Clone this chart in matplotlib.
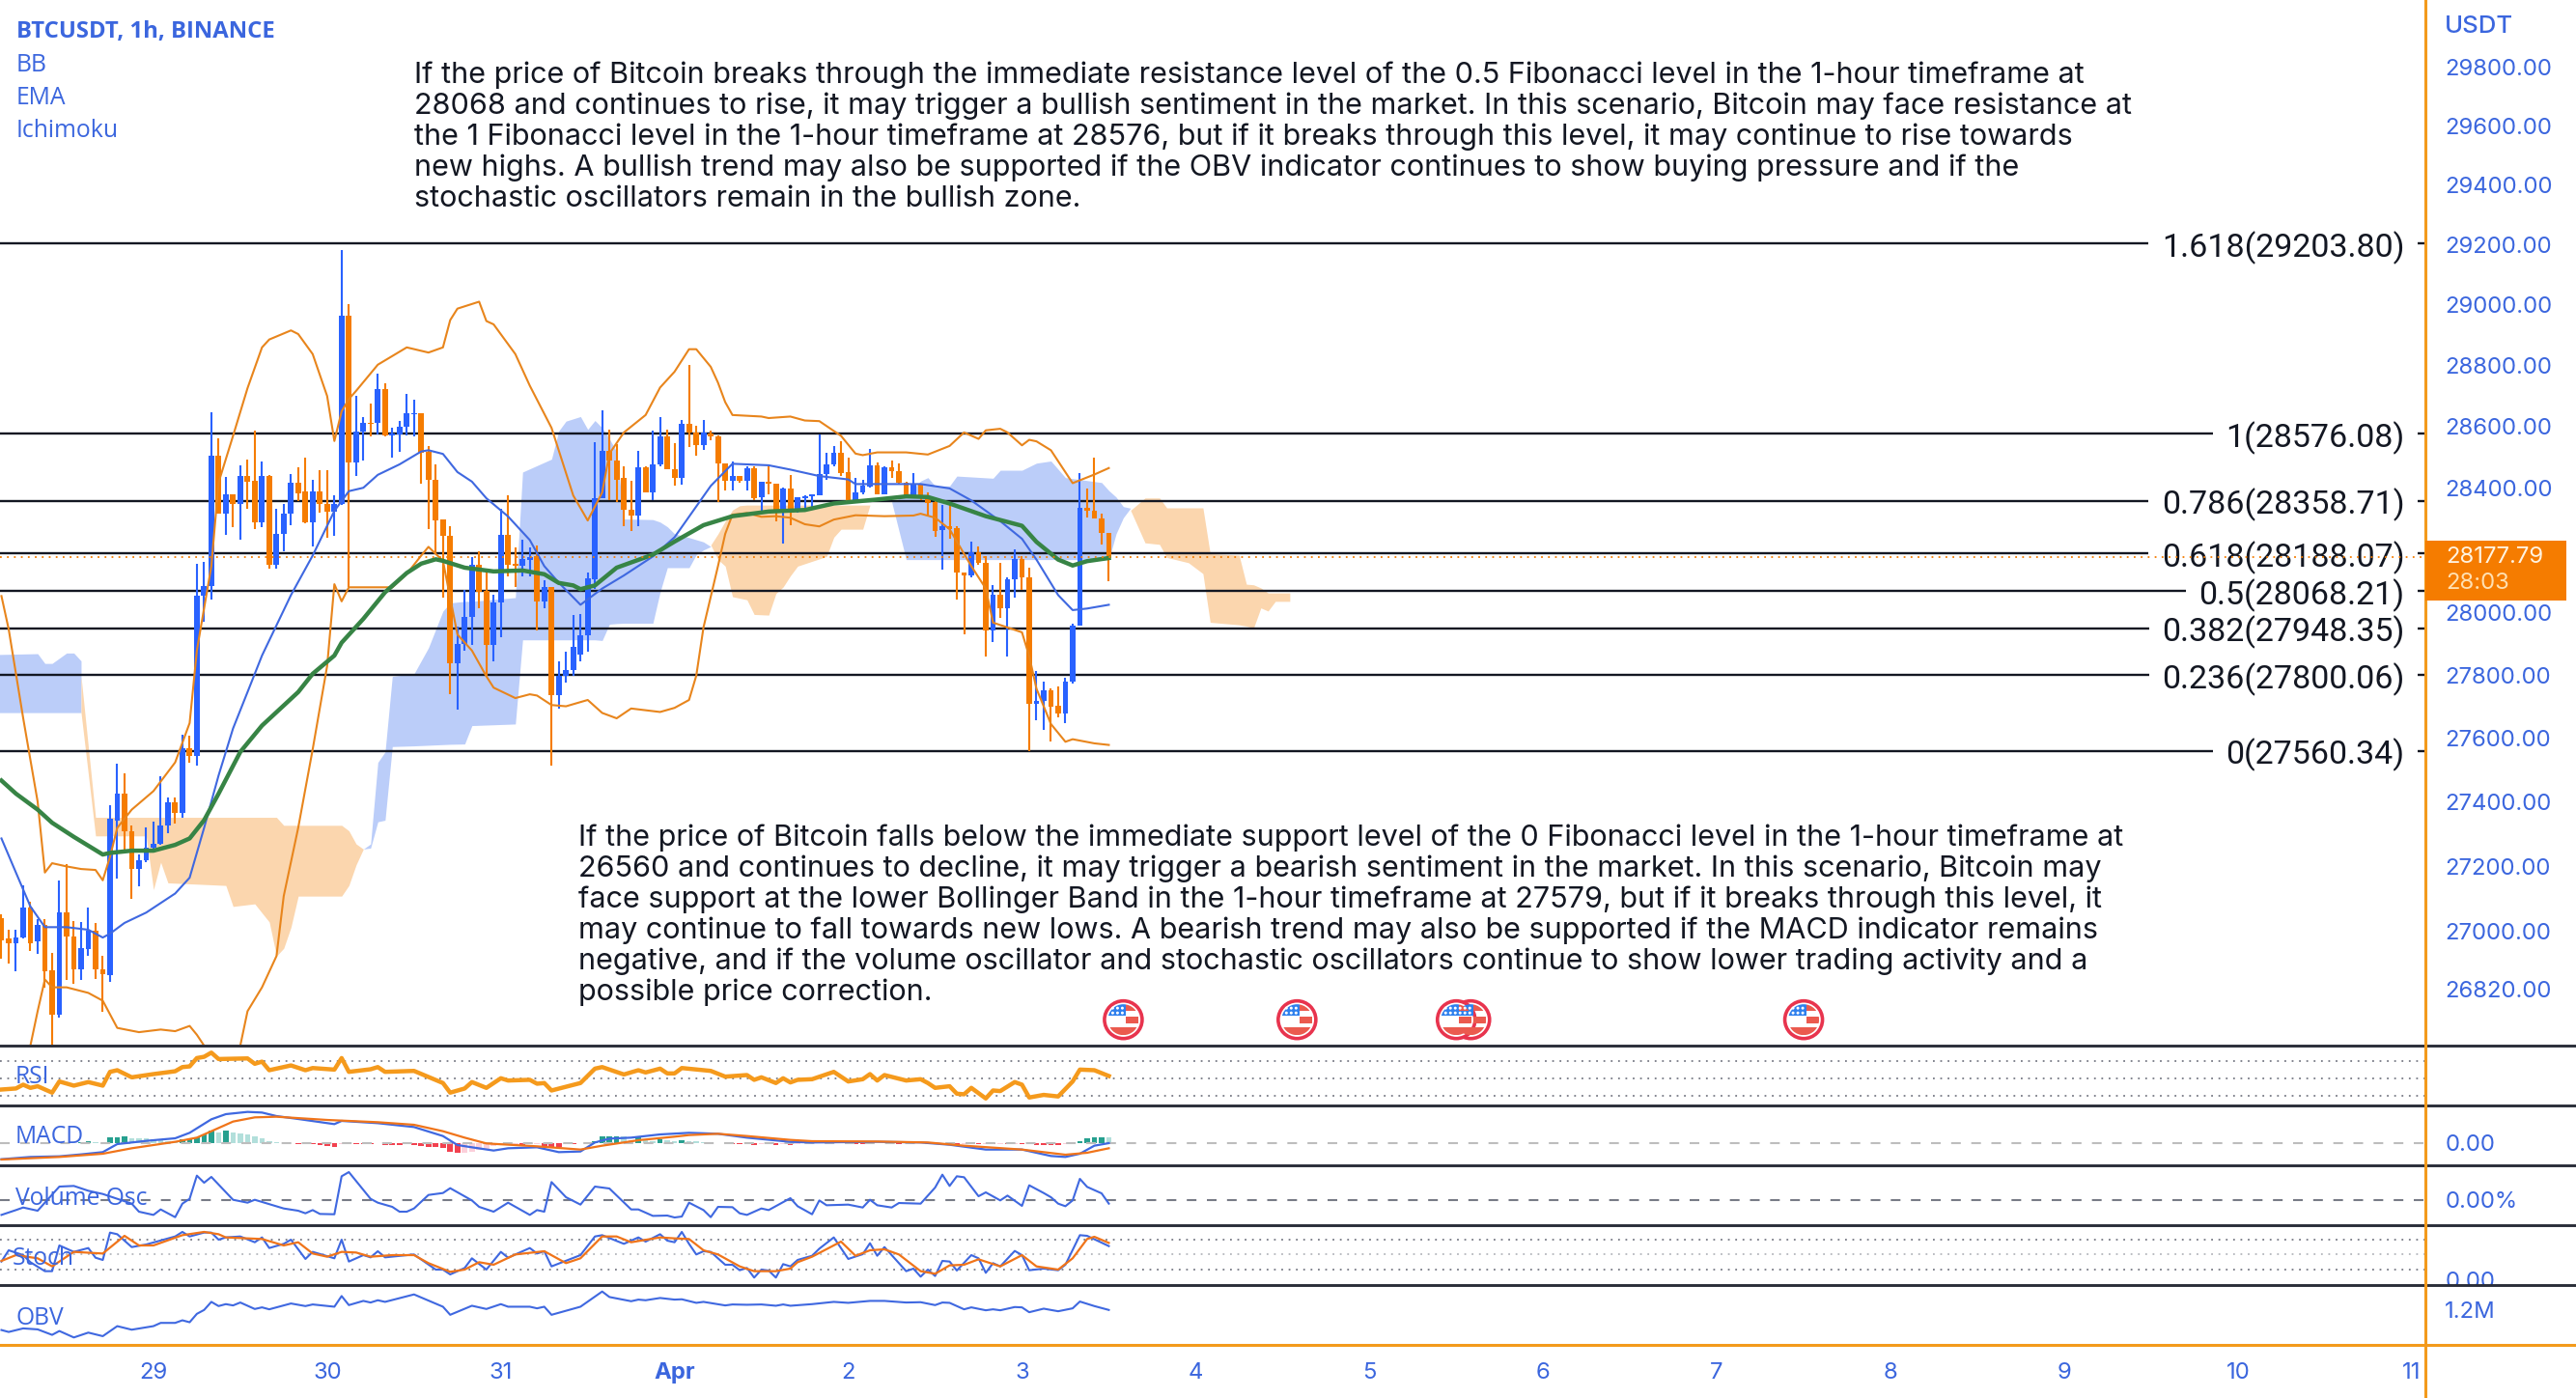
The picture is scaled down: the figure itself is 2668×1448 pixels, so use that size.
import numpy as np
import matplotlib
matplotlib.use('Agg')
import matplotlib.pyplot as plt
from matplotlib.lines import Line2D
from matplotlib.patches import Rectangle, Circle
from matplotlib.path import Path
from matplotlib.ticker import NullLocator, NullFormatter
from matplotlib.transforms import IdentityTransform

# hours are counted from 29 March 00:00, one candle per hour
candle_high = [27051,27003,27003,27140,27088,27035,27035,26933,27156,27207,27030,27027,27072,27024,26922,27389,27521,27491,27327,27236,27319,
    27340,27480,27414,27414,27610,27607,28156,28161,28648,28562,28435,28379,28474,28494,28588,28486,28443,28334,28350,28447,28469,28499,28426,28457,28457,28376,29184,29002,28700,28631,28674,28774,28743,28596,28619,28708,28688,28645,28536,28477,28300,28278,27954,28072,28177,28195,28140,28055,28334,28376,28207,28232,28207,28215,28102,28080,27845,27875,27991,
    27993,28128,28549,28654,28591,28544,28470,28423,28521,28470,28588,28631,28591,28546,28623,28802,28604,28623,28586,28570,28481,28486,28439,28470,28470,28420,28470,28413,28402,28441,28371,28378,28381,28575,28516,28536,28552,28500,28434,28428,28528,28484,28470,28488,28481,28420,28450,28413,28386,28360,28345,28347,28278,28128,28226,28212,28179,28086,28157,28112,28202,28179,28143,27814,27778,27757,27765,27791,27962,28449,28397,28499,28316,28254]
candle_top = [27040,26975,26979,27072,27072,27017,27017,26877,27056,27056,26983,26946,27000,27000,26882,27348,27426,27426,27307,27217,27258,
    27269,27327,27398,27398,27570,27569,28052,28084,28506,28506,28379,28379,28438,28438,28425,28438,28438,28253,28317,28416,28416,28388,28388,28388,28347,28350,28964,28964,28584,28613,28613,28722,28722,28579,28600,28645,28645,28645,28518,28426,28300,28246,27900,27984,28151,28151,28069,28030,28249,28249,28155,28170,28178,28181,28080,28080,27796,27817,27891,
    27926,28110,28368,28521,28521,28491,28432,28331,28468,28468,28476,28567,28567,28462,28609,28609,28581,28581,28578,28567,28479,28439,28439,28465,28465,28420,28420,28413,28399,28397,28371,28374,28379,28447,28478,28515,28515,28452,28386,28407,28473,28473,28468,28468,28455,28416,28413,28410,28374,28355,28278,28278,28270,28126,28192,28192,28157,28057,28057,28107,28171,28171,28112,27719,27752,27752,27704,27780,27957,28335,28335,28327,28301,28254]
candle_bottom = [26970,26962,26962,26979,26962,26966,26874,26742,26742,26982,26882,26882,26943,26882,26866,26863,27343,27307,27191,27191,27217,
    27256,27269,27327,27365,27365,27544,27544,28052,28084,28317,28317,28350,28350,28421,28290,28290,28151,28151,28253,28317,28384,28290,28290,28347,28325,28325,28347,28484,28484,28584,28608,28612,28570,28572,28574,28600,28641,28514,28426,28296,28246,27837,27837,27900,27984,28067,27895,27895,28030,28151,28148,28148,28168,28035,28035,27735,27735,27796,27817,
    27865,27926,28107,28368,28491,28428,28331,28312,28312,28386,28386,28476,28462,28434,28434,28581,28539,28539,28567,28481,28423,28423,28423,28423,28368,28371,28413,28319,28319,28319,28324,28368,28374,28378,28447,28478,28449,28357,28357,28386,28405,28381,28381,28455,28416,28376,28376,28366,28353,28262,28264,28267,28126,28119,28119,28157,27942,27942,28012,28012,28107,28112,27708,27708,27717,27701,27678,27678,27778,27957,28327,28301,28254,28174]
candle_low = [26914,26898,26874,26975,26938,26930,26826,26648,26732,26850,26838,26850,26922,26853,26750,26842,27160,27245,27099,27136,27212,
    27245,27266,27302,27331,27352,27524,27513,27971,28042,28317,28249,28275,28232,28334,28266,28275,28140,28140,28195,28280,28359,28285,28212,28320,28238,28246,28345,28080,28440,28490,28567,28574,28567,28499,28519,28570,28567,28413,28266,28190,28047,27738,27689,27878,27895,28013,27796,27845,27920,28114,28080,28114,28114,27942,28013,27513,27694,27776,27796,
    27842,27873,28076,28366,28360,28355,28276,28262,28278,28386,28360,28470,28460,28407,28410,28533,28504,28525,28554,28355,28392,28392,28418,28392,28360,28319,28381,28293,28221,28281,28319,28329,28340,28376,28428,28470,28439,28355,28355,28381,28402,28381,28381,28434,28413,28366,28366,28360,28309,28241,28136,28236,28040,27929,28112,28153,27860,27906,27983,27860,28047,28071,27560,27658,27625,27589,27665,27647,27773,27957,28304,28301,28218,28101]
candle_side = ("OOBBOBOOBOOBBOOBBOOBB"
    "BBBOBOBBBOBOBOOBOBBBOOBOOBBOBBOBOBBBBOOOOOBBBOOBBOOBBOBOBBB"
    "BBBBOOOOBOBBOOBOOBOOOBOBOBOOBOBBBBBBOOBBBOBOOOBOOOBOOOBOOBOBBOOBBOOBBBOOOO")

upper_hours = [-21,-20,-18,-16,-15,-14,-12,-10,-8,-7,-6,-5,-3,0,3,5,6,7,8,9,11,13,15,16,19,20,22,24,25,26,27,28,31,35,38,40,41,42,45,46,47,50,52,55,58,60,62,63,65,68,70,72,74,75,77,78,79,80,84,85,88,90,92,95,97,98,100,104,107,110,112,114,115,117,118,120,121,122,124,127,130,132]
upper_band = [28052,27946,27664,27401,27180,27209,27199,27191,27188,27156,27229,27319,27376,27434,27524,27648,27878,28013,28148,28418,28570,28726,28860,28886,28916,28904,28838,28700,28553,28650,28690,28717,28803,28860,28843,28860,28950,28988,29011,28947,28936,28838,28734,28596,28376,28295,28386,28512,28581,28638,28728,28780,28854,28854,28796,28744,28680,28638,28633,28628,28633,28620,28618,28570,28512,28507,28516,28516,28509,28537,28581,28560,28588,28593,28581,28539,28557,28552,28523,28416,28444,28465]
lower_hours = [-21,-17,-16,-15,-14,-12,-9,-7,-5,-2,1,3,5,6,7,9,11,12,13,15,17,18,20,22,24,25,26,27,30,33,35,37,38,40,42,44,46,47,50,52,53,55,57,60,62,64,66,70,72,74,75,76,78,79,80,82,84,86,88,90,92,94,97,101,105,106,108,110,113,115,116,120,121,122,124,126,127,130,132]
lower_band = [26350,26648,26753,26850,26826,26826,26809,26785,26702,26689,26697,26692,26708,26681,26648,26450,26450,26648,26753,26826,26922,27107,27319,27565,27829,28090,28035,28080,28080,28080,28123,28182,28210,28165,27929,27878,27796,27760,27727,27739,27735,27705,27701,27721,27680,27663,27694,27683,27696,27721,27798,27952,28148,28252,28314,28319,28307,28309,28304,28283,28276,28298,28312,28309,28311,28317,28304,28267,28148,28076,27967,27936,27860,27757,27645,27589,27597,27584,27579]
basis_hours = [-21,-19,-17,-15,-12,-9,-7,-6,-4,-1,3,5,7,9,11,13,15,19,22,25,27,29,31,34,37,38,40,42,44,46,49,52,54,56,59,62,65,69,72,77,80,85,88,92,96,97,106,110,113,117,120,122,125,127,129,132]
basis_band = [27286,27180,27075,27011,27011,27003,26979,26991,27024,27056,27115,27164,27319,27483,27631,27746,27862,28055,28182,28326,28390,28401,28443,28477,28519,28523,28511,28452,28421,28367,28308,28232,28148,28095,28024,28076,28118,28179,28241,28407,28479,28474,28460,28439,28428,28413,28413,28399,28360,28293,28236,28169,28055,28007,28012,28024]
ema_hours = [-21,-19,-16,-14,-11,-7,-6,-3,0,3,5,7,9,12,15,20,22,25,26,29,32,35,37,39,40,43,47,51,54,56,58,59,61,64,69,72,76,80,85,90,94,100,104,107,110,115,120,122,125,127,129,132]
ema_line = [27467,27426,27376,27335,27291,27236,27241,27248,27248,27266,27286,27343,27426,27557,27640,27746,27804,27862,27903,27979,28064,28126,28156,28170,28165,28143,28131,28134,28122,28094,28086,28074,28086,28143,28185,28227,28280,28309,28324,28329,28350,28363,28373,28371,28350,28309,28278,28226,28169,28150,28164,28174]

cloud_blue1_hours = [-22,-16,-15,-14,-12,-11,-10]
cloud_blue1_top = [27865,27868,27837,27837,27870,27870,27845]
cloud_blue1_bottom = [27681,27681,27681,27681,27681,27681,27681]
cloud_orange1_hours = [-10,-8,-1,0,1,2,10,11,14,16,17,18,19,20,26,27,28,29]
cloud_orange1_top = [27796,27352,27352,27352,27352,27352,27352,27352,27352,27352,27352,27327,27327,27327,27327,27310,27269,27253]
cloud_orange1_bottom = [27681,27294,27294,27127,27212,27148,27140,27075,27083,27027,26922,26946,27011,27107,27107,27140,27204,27253]
cloud_blue2_hours = [29,30,31,32,33,36,38,40,41,43,44,50,51,55,56,57,59,60,61,62,63,64,65,69,70,71,72,74,75,76,77]
cloud_blue2_top = [27253,27269,27524,27557,27796,27804,27887,28004,28030,28035,28035,28047,28452,28494,28586,28618,28633,28591,28620,28596,28560,28518,28300,28298,28290,28275,28252,28240,28233,28226,28211]
cloud_blue2_bottom = [27253,27256,27338,27343,27574,27576,27578,27580,27581,27582,27640,27645,27912,27912,27912,27912,27912,27912,27912,27910,27962,27964,27965,27965,28065,28143,28143,28143,28185,28200,28211]
cloud_orange2_hours = [77,78,79,80,81,82,83,85,86,87,88,89,93,94,95,98,99]
cloud_orange2_top = [28216,28252,28293,28329,28343,28345,28345,28345,28345,28345,28345,28345,28345,28345,28345,28345,28345]
cloud_orange2_bottom = [28216,28169,28148,28050,28045,28040,27993,27991,28060,28081,28117,28148,28179,28241,28267,28267,28345]
cloud_blue3_hours = [102,104,106,107,108,110,111,116,117,120,122,124,126,131,132,133,134,135]
cloud_blue3_top = [28355,28376,28423,28434,28407,28407,28439,28432,28458,28458,28481,28488,28434,28418,28392,28371,28340,28335]
cloud_blue3_bottom = [28355,28169,28169,28169,28169,28169,28169,28169,28169,28169,28169,28169,28169,28169,28169,28252,28304,28335]
cloud_orange3_hours = [135,137,139,140,143,145,146,150,151,152,153,154,155,157]
cloud_orange3_top = [28328,28368,28368,28336,28336,28336,28188,28183,28090,28088,28078,28062,28062,28062]
cloud_orange3_bottom = [28328,28223,28218,28176,28159,28124,27968,27960,27956,27950,28014,28004,28035,28035]

fib_labels = ['1.618(29203.80)','1(28576.08)','0.786(28358.71)','0.618(28188.07)','0.5(28068.21)','0.382(27948.35)','0.236(27800.06)','0(27560.34)']
fib_prices = [29203.80,28576.08,28358.71,28188.07,28068.21,27948.35,27800.06,27560.34]
last_price = 28177.79
event_hours = [228,182,180,158,134]
event_price = 26727

# 28200 sits behind the last price box, so it is left out
price_ticks = [29800,29600,29400,29200,29000,28800,28600,28400,28000,27800,27600,27400,27200,27000,26820]
day_hours = [0,24,48,72,96,120,144,168,192,216,240,264,288,312]
day_labels = ['29','30','31','Apr','2','3','4','5','6','7','8','9','10','11']

rsi_hours = [-21,-19,-18,-17,-16,-14,-13,-11,-9,-7,-6,-5,-3,0,3,4,5,6,7,8,9,13,14,15,16,19,21,22,25,26,27,30,31,32,36,40,41,43,44,46,48,49,52,53,54,55,59,61,62,65,67,68,70,71,72,73,77,79,82,83,84,86,87,88,89,91,94,96,98,99,100,101,104,106,107,108,110,111,112,113,115,116,117,119,120,121,123,125,127,128,130,132]
rsi_values = [37.0,38.2,42.6,38.9,40.8,33.4,46.3,41.5,45.6,41.5,57.4,59.3,51.1,54.8,58.1,62.9,63.7,73.3,74.8,79.6,72.2,72.9,66.7,69.2,59.3,64.8,59.3,61.8,60,73.3,57.4,60.4,62.9,57.4,58.5,44.5,33.4,38.2,45.6,38.9,50,47.4,48.2,43.7,44.5,35.9,44.5,61.1,62.9,54.4,59.3,56.7,61.1,55.6,55.6,61.8,58.5,51.9,53.7,48.2,51.1,44.5,50,45.2,48.2,48.9,57.4,46.3,48.9,54.8,47.4,53.7,47.4,48.9,44.5,38.9,40.8,32.2,31.5,38.9,26.7,35.9,35.2,45.6,42.6,27.8,30.8,29,46.3,60,59.3,52.6]

macd_hours = [-21,-17,-13,-10,-7,-5,-1,3,5,8,10,13,15,17,20,25,26,31,36,40,42,44,47,49,53,56,59,61,63,66,70,74,78,82,88,91,100,106,110,115,120,124,126,128,130,132]
macd_values = [-25,-21.5,-20.5,-17.5,-14,-1.5,3.5,7.5,16,37,45,48.5,47.5,42,37.5,29.5,34.5,31,25,11,-3,-6.5,-11.5,-8,-6.5,-14,-13,1,7,8.5,13.5,16,14.5,8.5,2,1,2,1,-2.5,-10,-10,-20,-21.5,-16.5,-4,0]
signal_hours = [-21,-13,-7,-3,3,6,8,11,14,17,24,31,36,40,43,46,53,59,62,67,72,74,78,82,88,91,100,107,112,120,126,129,132]
signal_values = [-25.5,-21.5,-16.5,-8,2,8.5,18.5,33.5,40,41,36,32.5,28.5,18.5,8.5,-0.5,-5,-10,-4,4.5,10,12.5,14.5,11,5,3,2.5,1,-4,-10,-18,-15,-8]
hist_values = [0.2,0.2,0.3,0.4,0.4,0.5,0.5,0.4,0.4,0.5,0.5,1.0,3.5,1,0.5,8.5,9.5,10,8,7.5,7,
    6,5,3.5,3,6,6.5,8.5,13,19.5,16,19,16,14.5,13.5,10,7.5,3.5,1,0.5,
    -0.5,-0.8,-1,-1.2,-3.5,-4,-6,-1,-1.2,-2,-2,-2.2,-0.5,-2.5,-3.5,-3.6,-1,-2.5,-5,-5.5,-6,-8,-14,-15.5,-15,-14,-10,-9,-4,-2,-2,-1.5,-3,-1.5,-1,-5.5,-6,-6.5,-1,-1,-0.5,
    0.5,3.5,10,11,11,10,5,8.5,4,3,6,4,3,4,3.5,3,2,1,0.5,0.3,
    -1,-1.5,-2,-3,-1,-1.5,-3,-1,-3,-1,-0.5,-0.3,0.3,0.5,1,0.5,-0.5,-1.5,-1.5,-1.5,-0.5,-0.5,-0.5,-1,-0.7,-0.5,-0.5,-0.7,-1,-1.5,-3,-4,-1,-1,-1.5,-1,-2,-1,-1.5,-1,-1,-2,-3.5,-3.5,-3.5,-3.5,-1.5,-1,
    3.5,7,8.5,9,8.5]

vol_hours = [-21,-19,-18,-16,-13,-11,-9,-7,-3,-2,0,1,3,4,5,6,7,8,11,13,14,18,20,21,22,23,25,26,27,30,31,33,34,35,36,38,40,41,44,45,47,49,52,53,54,55,57,59,61,63,66,67,69,71,72,73,74,76,77,78,80,81,82,84,85,88,89,91,92,93,96,98,99,100,102,103,106,108,109,110,111,112,114,115,117,118,120,121,123,124,125,126,127,128,129,131,132]
vol_values = [-23.5,-16,-12,-17,20.5,21.5,14,9,-6,-18.5,-23.5,-15,-27,-6,1.5,37.5,26.5,35.5,0,-4.5,0,-13.5,-17,-21,-16,-22,-22.5,36.5,43,1.5,-4.5,-11,-18.5,-18.5,-13.5,7.5,10.5,18,-1,-11,-18.5,-4.5,-23.5,-16,-18.5,27.5,4,-7.5,20.5,17.5,-15,-15,-25,-24.5,-27.5,-26,-4.5,-16,-27,-11,-11.5,-21,-23.5,-13.5,-16,2.5,-10,-22.5,-1,-8.5,-7.5,-12,0,-8.5,-12,-5,-6,19,39,21.5,36.5,35,5.5,11.5,-1,6.5,-9.5,22.5,10.5,4,-6,-10,-1,32.5,20,10,-6]

stoch_k_hours = [-21,-20,-18,-17,-15,-14,-13,-11,-9,-8,-7,-6,-5,-3,-1,3,4,5,7,8,9,10,12,14,15,16,18,19,21,22,25,26,27,29,30,31,32,36,39,40,41,43,44,46,48,49,52,53,54,55,59,61,62,65,67,68,70,71,72,73,74,75,76,77,79,80,81,82,83,84,85,86,87,88,89,91,92,94,96,98,99,100,101,104,105,106,107,108,109,110,111,113,114,115,116,117,119,120,121,123,125,126,128,129,132]
stoch_k = [35.8,58.4,48.7,34.5,16.5,16.5,68.1,55.2,62.9,43.5,39,93.9,90.6,64.8,70,86.1,95.2,86.1,93.9,93.9,79.7,84.2,86.1,74.5,84.2,62.9,71.3,79.7,41,55.2,42.3,79.7,35.8,48.7,44.2,56.5,44.2,50,19.7,19.7,10,22.9,42.3,19.7,55.2,43.5,62.9,51.9,56.5,26.1,48.7,86.1,88.7,71.3,84.2,75.8,90.6,77.7,74.5,95.2,71.3,50,56.5,55.2,29.4,29.4,18.4,22.9,3.6,19.7,17.8,3.6,30.7,26.1,39,47.4,61.6,84.2,41,50.6,72.6,47.4,64.8,16.5,21.6,5.5,19.7,6.8,37.1,35.8,17.8,48.7,42.3,13.2,32.6,26.1,57.1,48.7,18.4,21.6,18.4,29.4,88.7,87.4,66.8]
stoch_d_hours = [-21,-19,-16,-14,-11,-7,-4,-2,0,4,7,9,10,15,18,20,22,24,26,28,30,33,36,38,41,43,45,47,50,54,57,59,62,64,66,70,72,74,76,78,81,83,86,88,89,91,95,97,99,101,103,106,108,110,112,114,117,120,122,125,127,129,130,132]
stoch_d = [37.1,48.7,42.3,26.1,55.2,51.9,87.4,68.1,68.1,88.7,95.2,90.6,84.2,81,68.1,74.5,51.9,45.5,55.2,53.9,45.5,48.7,48.7,32.6,15.2,19.7,34.5,29.4,50,56.5,32.6,42.3,86.1,86.1,74.5,84.2,82.3,81,58.4,50,26.1,16.5,16.5,21.6,34.5,45.5,75.8,47.4,58.4,60.3,50,16.5,11.3,28.1,29.4,40.3,26.1,48.7,26.1,19.7,42.3,81,85.5,73.2]

obv_hours = [-21,-20,-18,-16,-14,-13,-11,-9,-7,-5,-3,0,1,3,4,5,6,7,8,9,10,11,12,14,15,16,19,21,22,25,26,27,29,30,31,32,36,40,41,44,46,48,49,52,53,54,55,59,62,63,66,67,68,70,72,73,75,76,79,80,82,84,86,87,88,91,94,96,99,101,104,106,108,109,110,112,113,115,116,117,119,120,121,123,125,127,128,130,132]
obv_values = [0.58,0.52,0.63,0.60,0.43,0.55,0.35,0.50,0.39,0.70,0.59,0.70,0.80,0.80,0.88,0.82,1.08,1.20,1.45,1.32,1.38,1.34,1.43,1.23,1.28,1.22,1.40,1.32,1.37,1.30,1.63,1.35,1.48,1.43,1.50,1.45,1.68,1.30,1.05,1.33,1.23,1.38,1.30,1.30,1.25,1.30,1.05,1.30,1.77,1.60,1.47,1.52,1.50,1.57,1.52,1.53,1.42,1.45,1.34,1.37,1.36,1.37,1.33,1.37,1.33,1.38,1.45,1.42,1.48,1.48,1.43,1.44,1.35,1.43,1.42,1.22,1.28,1.19,1.22,1.19,1.29,1.28,1.13,1.24,1.16,1.25,1.46,1.32,1.20]

top_note = [
    'If the price of Bitcoin breaks through the immediate resistance level of the 0.5 Fibonacci level in the 1-hour timeframe at',
    '28068 and continues to rise, it may trigger a bullish sentiment in the market. In this scenario, Bitcoin may face resistance at',
    'the 1 Fibonacci level in the 1-hour timeframe at 28576, but if it breaks through this level, it may continue to rise towards',
    'new highs. A bullish trend may also be supported if the OBV indicator continues to show buying pressure and if the',
    'stochastic oscillators remain in the bullish zone.']
bottom_note = [
    'If the price of Bitcoin falls below the immediate support level of the 0 Fibonacci level in the 1-hour timeframe at',
    '26560 and continues to decline, it may trigger a bearish sentiment in the market. In this scenario, Bitcoin may',
    'face support at the lower Bollinger Band in the 1-hour timeframe at 27579, but if it breaks through this level, it',
    'may continue to fall towards new lows. A bearish trend may also be supported if the MACD indicator remains',
    'negative, and if the volume oscillator and stochastic oscillators continue to show lower trading activity and a',
    'possible price correction.']

W, H = 2668, 1448
FRAME_X = 2512
BLUE = '#2962FF'
ORANGE = '#F57C00'
TEXT_BLUE = '#3B66DE'
FRAME = '#F39A1C'
DARK = '#2A2E39'
NOTE_FONT = 'Inter'

plt.rcParams['font.family'] = ['Inter', 'DejaVu Sans']
fig = plt.figure(figsize=(W / 100, H / 100), dpi=100, facecolor='white')


def px_text(x, y, s, **kw):
    return fig.text(x / W, 1 - y / H, s, **kw)


def make_axes(top, bottom, ylim):
    a = fig.add_axes([0, 1 - bottom / H, FRAME_X / W, (bottom - top) / H])
    a.set_xlim(-21.2, 313.9)
    a.set_ylim(*ylim)
    for s in a.spines.values():
        s.set_visible(False)
    a.set_xticks([])
    a.set_yticks([])
    a.yaxis.tick_right()
    a.tick_params(axis='y', length=0, pad=14.5, labelsize=17.2, labelcolor=TEXT_BLUE)
    a.patch.set_alpha(0)
    return a


ax = make_axes(0, 1082, (26651, 30028))
ax.set_yscale('log')
ax.set_ylim(26651, 30028)
ax.yaxis.set_minor_locator(NullLocator())
ax.yaxis.set_minor_formatter(NullFormatter())
ax.set_yticks(price_ticks)
ax.set_yticklabels(['%.2f' % p for p in price_ticks])

# ichimoku cloud
for hrs, top, bot, col in [
        (cloud_blue1_hours, cloud_blue1_top, cloud_blue1_bottom, '#BBCDF9'),
        (cloud_orange1_hours, cloud_orange1_top, cloud_orange1_bottom, '#FBD6AE'),
        (cloud_blue2_hours, cloud_blue2_top, cloud_blue2_bottom, '#BBCDF9'),
        (cloud_orange2_hours, cloud_orange2_top, cloud_orange2_bottom, '#FBD6AE'),
        (cloud_blue3_hours, cloud_blue3_top, cloud_blue3_bottom, '#BBCDF9'),
        (cloud_orange3_hours, cloud_orange3_top, cloud_orange3_bottom, '#FBD6AE')]:
    ax.fill_between(hrs, bot, top, color=col, lw=0, zorder=1)

# fibonacci levels, the white box sits under all labels and hides the line behind the text
for label, price in zip(fib_labels, fib_prices):
    ax.axhline(price, color='#131722', lw=1.7, zorder=2)
    ax.annotate(label, (311, price), xytext=(0, -3), textcoords='offset points',
                ha='right', va='center', fontsize=24.5, color='none', zorder=3, family='Roboto',
                bbox=dict(facecolor='white', edgecolor='none', pad=9.5))
    ax.annotate(label, (311, price), xytext=(0, -3), textcoords='offset points',
                ha='right', va='center', fontsize=24.5, color='#131722', zorder=6, family='Roboto')

candle_hours = np.arange(-21, 133)
candle_cols = [BLUE if c == 'B' else ORANGE for c in candle_side]
ax.vlines(candle_hours, candle_low, candle_high, colors=candle_cols, lw=1.5, zorder=4)
ax.bar(candle_hours, np.array(candle_top) - np.array(candle_bottom), bottom=candle_bottom,
       width=0.78, color=candle_cols, lw=0, zorder=4)

ax.plot(upper_hours, upper_band, color='#E8851C', lw=1.5, zorder=5)
ax.plot(lower_hours, lower_band, color='#E8851C', lw=1.5, zorder=5)
ax.plot(basis_hours, basis_band, color='#3F68E0', lw=1.5, zorder=5)
ax.plot(ema_hours, ema_line, color='#378445', lw=3.2, zorder=5)
ax.axhline(last_price, color=ORANGE, lw=1.3, ls=(0, (1, 3)), zorder=7)

# panes
ax_rsi = make_axes(1083, 1145, (18.6, 87.7))
for lev in [70, 50, 30]:
    ax_rsi.axhline(lev, color='#787B86', lw=1.3, ls=(0, (1, 3.2)))
ax_rsi.plot(rsi_hours, rsi_values, color='#F59A1C', lw=3.2)

ax_macd = make_axes(1145, 1207, (-34.5, 58.5))
ax_macd.axhline(0, color='#BDBDBD', lw=1.5, ls=(0, (4.8, 5.2)))
hist_cols = []
prev = 0
for v in hist_values:
    if v >= 0:
        hist_cols.append('#26A08F' if v >= prev else '#B2DFDB')
    else:
        hist_cols.append('#F2414F' if v <= prev else '#FBCFDA')
    prev = v
ax_macd.bar(candle_hours, hist_values, width=0.75, color=hist_cols, lw=0)
ax_macd.plot(macd_hours, macd_values, color='#3F68E0', lw=1.6)
ax_macd.plot(signal_hours, signal_values, color='#F0741A', lw=1.6)
ax_macd.set_yticks([0])
ax_macd.set_yticklabels(['0.00'])

ax_vol = make_axes(1207, 1268.7, (-39, 53.5))
ax_vol.axhline(0, color='#787B86', lw=1.5, ls=(0, (4.8, 5.2)))
ax_vol.plot(vol_hours, vol_values, color='#3F68E0', lw=1.5)
ax_vol.set_yticks([0])
ax_vol.set_yticklabels(['0.00%'])

ax_stoch = make_axes(1268.7, 1331, (-11.3, 109.3))
ax_stoch.axhline(80, color='#787B86', lw=1.3, ls=(0, (1, 3.2)))
ax_stoch.axhline(50, color='#B4B6BC', lw=1.3, ls=(0, (1, 3.2)))
ax_stoch.axhline(20, color='#787B86', lw=1.3, ls=(0, (1, 3.2)))
ax_stoch.plot(stoch_k_hours, stoch_k, color='#3F68E0', lw=1.5)
ax_stoch.plot(stoch_d_hours, stoch_d, color='#F0741A', lw=1.6)
ax_stoch.set_yticks([0])
ax_stoch.set_yticklabels(['0.00'])

ax_obv = make_axes(1331, 1393, (0.12, 1.97))
ax_obv.plot(obv_hours, obv_values, color='#3F68E0', lw=1.5)
ax_obv.set_yticks([1.2])
ax_obv.set_yticklabels(['1.2M'])
ax_obv.set_xticks(day_hours)
ax_obv.set_xticklabels(day_labels)
ax_obv.tick_params(axis='x', length=0, pad=13, labelsize=17.2, labelcolor=TEXT_BLUE)
ax_obv.get_xticklabels()[3].set_fontweight('bold')

# the Stoch scale label is cut off by the pane below it
fig.add_artist(Rectangle((FRAME_X / W + 0.0006, 1 - 1342 / H), 150 / W, 11 / H,
                         transform=fig.transFigure, color='white', lw=0, zorder=4))

for y in [1082.5, 1145, 1207, 1268.7, 1330.7]:
    fig.add_artist(Line2D([0, 1], [1 - y / H] * 2, color=DARK, lw=2.1, zorder=5))
fig.add_artist(Line2D([0, 1], [1 - 1393 / H] * 2, color=FRAME, lw=2.2, zorder=5))
fig.add_artist(Line2D([FRAME_X / W] * 2, [0, 1], color=FRAME, lw=2.2, zorder=5))

# last price box
fig.add_artist(Rectangle((FRAME_X / W, 1 - 622 / H), 146 / W, 62 / H,
                         transform=fig.transFigure, color=ORANGE, lw=0, zorder=6))
px_text(2533, 577, '%.2f' % last_price, color='#FFF3E0', fontsize=17.2, va='center', zorder=7)
px_text(2533, 604, '28:03', color='#FFE0B2', fontsize=17.2, va='center', zorder=7)
px_text(2532, 27, 'USDT', color=TEXT_BLUE, fontsize=18.5, va='center', fontweight='medium')

# economic event flags
ident = IdentityTransform()
for hr in event_hours:
    cx, cy = ax.transData.transform((hr, event_price))
    fig.add_artist(Circle((cx, cy), 19.5, transform=ident, facecolor='white', edgecolor='#E8344E', lw=2.6, zorder=8))
    clip = Path.circle((cx, cy), 16)
    pieces = [(-16, 4, 19, 13, '#2F80ED'), (3, 9, 13, 7, '#EB5A4E'), (3, -4, 13, 7, '#EB5A4E'), (-16, -16, 32, 8, '#EB5A4E')]
    for dx, dy, w, h, col in pieces:
        p = Rectangle((cx + dx, cy + dy), w, h, transform=ident, color=col, lw=0, zorder=9)
        fig.add_artist(p)
        p.set_clip_path(clip, ident)
    for dx in [-11, -6, -1]:
        for dy in [7, 12]:
            fig.add_artist(Circle((cx + dx, cy + dy), 1.5, transform=ident, color='white', lw=0, zorder=10))

# legend and pane titles
LABEL_FONT = 'Open Sans'
px_text(17, 33, 'BTCUSDT, 1h, BINANCE', color=TEXT_BLUE, fontsize=17.2, fontweight='bold', va='center', family=LABEL_FONT)
for y, s in [(67, 'BB'), (101, 'EMA'), (135, 'Ichimoku')]:
    px_text(17, y, s, color=TEXT_BLUE, fontsize=17.8, va='center', family=LABEL_FONT)
for x, y, s in [(16, 1116, 'RSI'), (16, 1178, 'MACD'), (16, 1241, 'Volume Osc'), (13, 1303, 'Stoch'), (16, 1365, 'OBV')]:
    px_text(x, y, s, color=TEXT_BLUE, fontsize=17.7, va='center', family=LABEL_FONT, zorder=6)

for i, line in enumerate(top_note):
    px_text(429, 78 + i * 31.9, line, color='#131722', fontsize=22, va='center', family=NOTE_FONT)
for i, line in enumerate(bottom_note):
    px_text(599, 868 + i * 31.9, line, color='#131722', fontsize=22, va='center', family=NOTE_FONT)

plt.savefig('out.png', dpi=100)
